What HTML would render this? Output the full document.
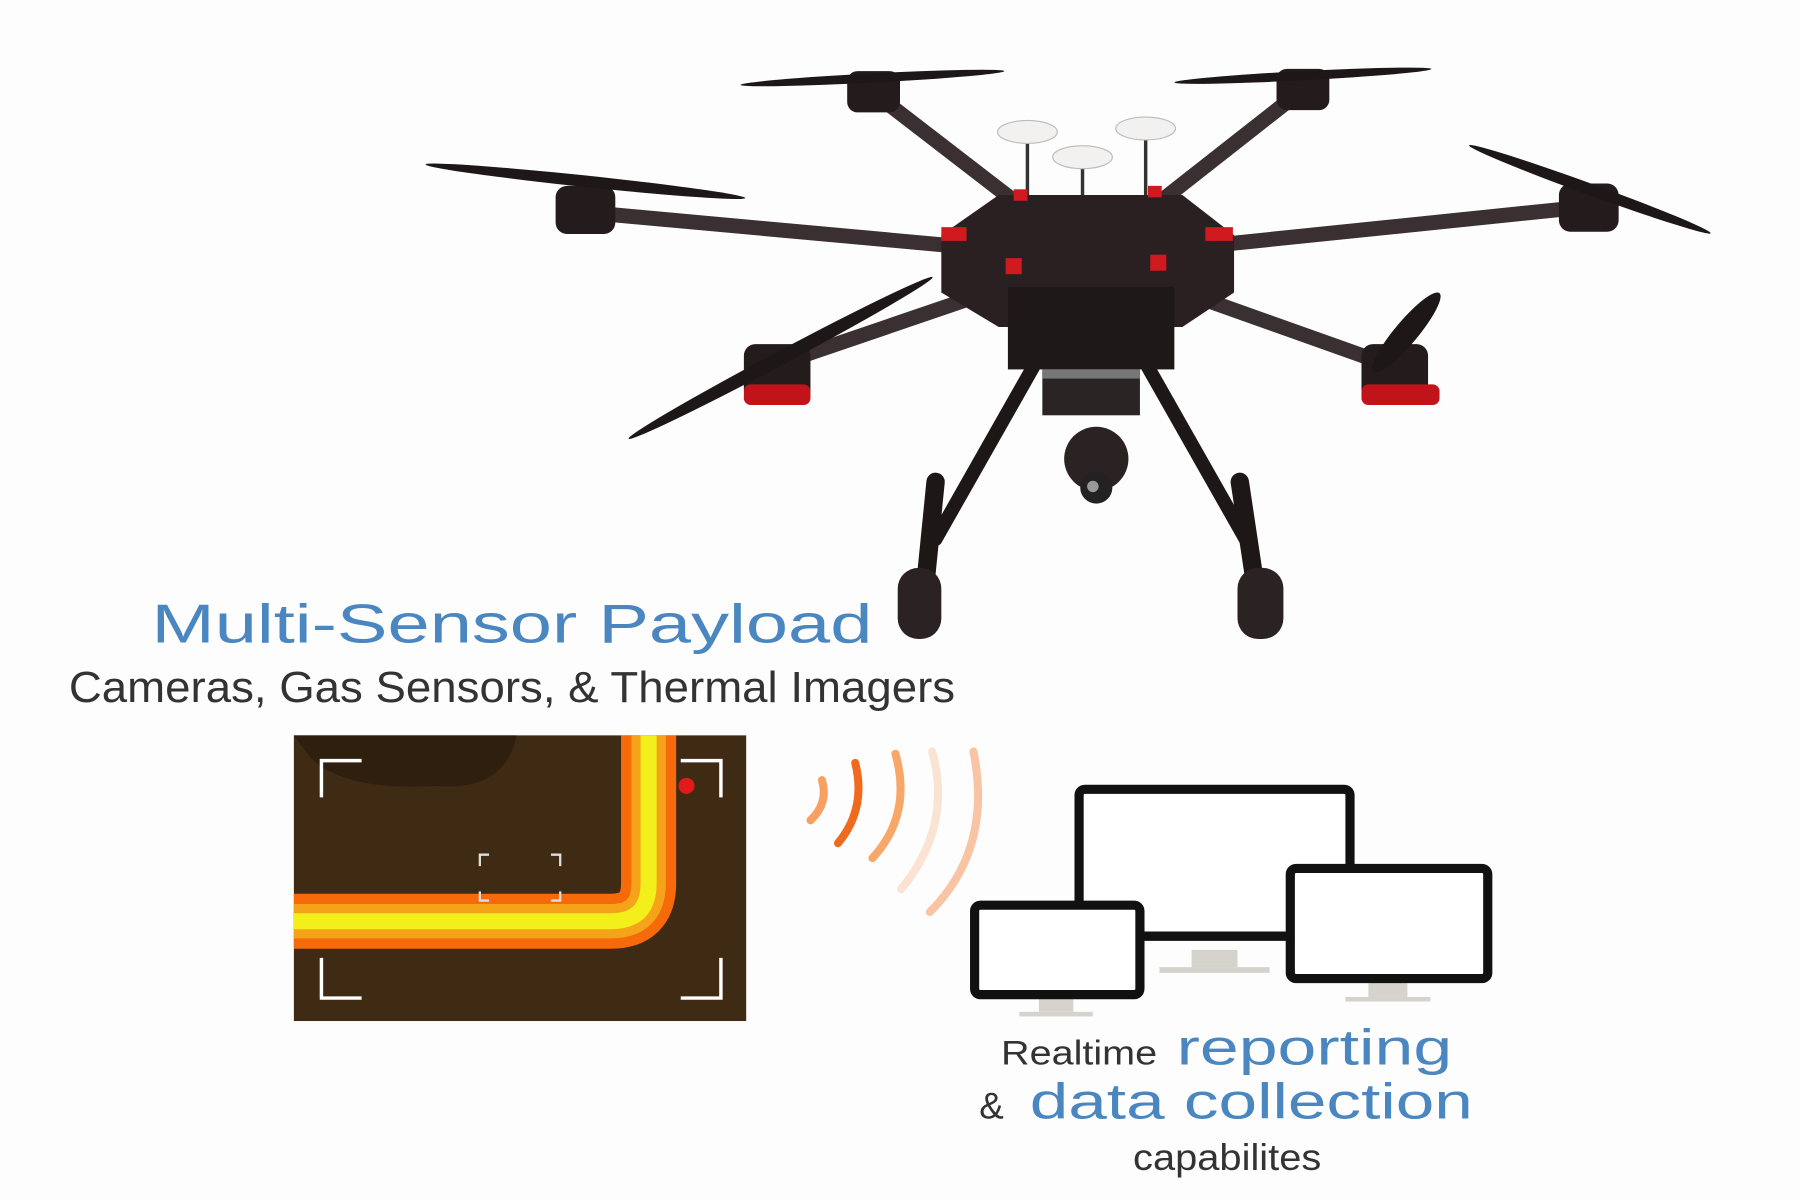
<!DOCTYPE html>
<html><head><meta charset="utf-8"><style>
html,body{margin:0;padding:0;background:#fdfdfd;}
svg{display:block;}
</style></head><body>
<svg width="1800" height="1200" viewBox="0 0 1568 1046" preserveAspectRatio="none" xmlns="http://www.w3.org/2000/svg">
<rect width="1568" height="1046" fill="#fdfdfd"/>
<!-- landing legs -->
<g stroke="#1e1718" stroke-linecap="round" fill="none">
<line x1="900" y1="320" x2="815" y2="470" stroke-width="12"/>
<line x1="1000" y1="320" x2="1085" y2="470" stroke-width="12"/>
<line x1="815" y1="420" x2="805" y2="520" stroke-width="16"/>
<line x1="1080" y1="420" x2="1095" y2="520" stroke-width="16"/>
</g>
<rect x="782" y="495" width="38" height="62" rx="18" fill="#2a2223"/>
<rect x="1078" y="495" width="40" height="62" rx="18" fill="#2a2223"/>
<!-- arms -->
<g stroke="#3a3032" stroke-width="13" stroke-linecap="round">
<line x1="948" y1="225" x2="510" y2="185"/>
<line x1="948" y1="225" x2="760" y2="80"/>
<line x1="948" y1="225" x2="1135" y2="78"/>
<line x1="948" y1="225" x2="1385" y2="180"/>
<line x1="948" y1="225" x2="670" y2="320"/>
<line x1="948" y1="225" x2="1215" y2="320"/>
</g>
<!-- motors -->
<g fill="#231b1c">
<rect x="484" y="162" width="52" height="42" rx="10"/>
<rect x="738" y="62" width="46" height="36" rx="9"/>
<rect x="1112" y="60" width="46" height="36" rx="9"/>
<rect x="1358" y="160" width="52" height="42" rx="10"/>
<rect x="648" y="300" width="58" height="50" rx="10"/>
<rect x="1186" y="300" width="58" height="50" rx="10"/>
</g>
<rect x="648" y="335" width="58" height="18" rx="6" fill="#c0141a"/>
<rect x="1186" y="335" width="68" height="18" rx="6" fill="#c0141a"/>
<!-- props -->
<g fill="#1e1718">
<ellipse cx="510" cy="158" rx="140" ry="5" transform="rotate(6 510 158)"/>
<ellipse cx="760" cy="68" rx="115" ry="4" transform="rotate(-3 760 68)"/>
<ellipse cx="1135" cy="66" rx="112" ry="4" transform="rotate(-3 1135 66)"/>
<ellipse cx="1385" cy="165" rx="112" ry="5" transform="rotate(20 1385 165)"/>
<ellipse cx="680" cy="312" rx="150" ry="6" transform="rotate(-28 680 312)"/>
<ellipse cx="1225" cy="290" rx="45" ry="10" transform="rotate(-50 1225 290)"/>
</g>
<!-- antennas -->
<g stroke="#333" stroke-width="3">
<line x1="895" y1="118" x2="895" y2="180"/><line x1="943" y1="140" x2="943" y2="235"/><line x1="998" y1="115" x2="998" y2="180"/>
</g>
<g fill="#f3f1ef" stroke="#bbb">
<ellipse cx="895" cy="115" rx="26" ry="10"/><ellipse cx="943" cy="137" rx="26" ry="10"/><ellipse cx="998" cy="112" rx="26" ry="10"/>
</g>
<!-- body -->
<polygon points="870,170 1030,170 1075,205 1075,255 1030,285 870,285 820,255 820,205" fill="#2a2021"/>
<rect x="878" y="250" width="145" height="72" fill="#1f1819"/>
<rect x="908" y="322" width="85" height="40" fill="#2b2425"/>
<rect x="908" y="322" width="85" height="8" fill="#777"/>
<circle cx="955" cy="400" r="28" fill="#2a2223"/>
<circle cx="955" cy="425" r="14" fill="#222"/>
<circle cx="952" cy="424" r="5" fill="#999"/>
<g fill="#d01a20">
<rect x="820" y="198" width="22" height="12"/><rect x="1050" y="198" width="24" height="12"/>
<rect x="876" y="225" width="14" height="14"/><rect x="1002" y="222" width="14" height="14"/>
<rect x="883" y="165" width="12" height="10"/><rect x="1000" y="162" width="12" height="10"/>
</g>
<!-- texts -->
<text x="132" y="560" font-family="'Liberation Sans',sans-serif" font-size="48" fill="#4a86c0" textLength="628" lengthAdjust="spacingAndGlyphs">Multi-Sensor Payload</text>
<text x="60" y="612" font-family="'Liberation Sans',sans-serif" font-size="38" fill="#333" textLength="772" lengthAdjust="spacingAndGlyphs">Cameras, Gas Sensors, &amp; Thermal Imagers</text>
<!-- thermal box -->
<rect x="256" y="641" width="394" height="249" fill="#3f2a14"/>
<path d="M256,641 H450 Q440,690 380,685 Q300,690 270,660 Z" fill="#2f1f0f"/>
<path d="M565,641 V770 Q565,803 532,803 H256" fill="none" stroke="#f76a0a" stroke-width="48"/>
<path d="M565,641 V770 Q565,803 532,803 H256" fill="none" stroke="#f5a41a" stroke-width="30"/>
<path d="M565,641 V770 Q565,803 532,803 H256" fill="none" stroke="#f3ef1a" stroke-width="14"/>
<circle cx="598" cy="685" r="7" fill="#e21a1a"/>
<g stroke="#fff" stroke-width="3" fill="none">
<path d="M280,695 V663 H315"/><path d="M593,663 H628 V695"/>
<path d="M280,835 V870 H315"/><path d="M593,870 H628 V835"/>
</g>
<g stroke="#ddd" stroke-width="2" fill="none">
<path d="M418,755 V745 H426"/><path d="M480,745 H488 V755"/><path d="M418,777 V785 H426"/><path d="M480,785 H488 V777"/>
</g>
<!-- wifi -->
<g fill="none" stroke-linecap="round" stroke-width="7">
<path d="M716,680 Q722,700 706,715" stroke="#f7a060"/>
<path d="M745,665 Q755,705 730,735" stroke="#f06a1e"/>
<path d="M780,657 Q795,710 760,748" stroke="#f7a868"/>
<path d="M812,655 Q830,720 785,775" stroke="#fbe3d4"/>
<path d="M848,655 Q865,740 810,795" stroke="#f8c4a4"/>
</g>
<!-- monitors -->
<g fill="#d6d3cc">
<rect x="1038" y="828" width="40" height="15"/><rect x="1010" y="843" width="96" height="5"/>
<rect x="905" y="870" width="30" height="12"/><rect x="888" y="882" width="64" height="4"/>
<rect x="1192" y="855" width="34" height="14"/><rect x="1172" y="869" width="74" height="4"/>
</g>
<g stroke="#111" stroke-width="8" fill="#fff">
<rect x="940" y="688" width="236" height="128" rx="5"/>
<rect x="849" y="789" width="144" height="78" rx="5"/>
<rect x="1124" y="757" width="172" height="96" rx="5"/>
</g>
<line x1="993" y1="816" x2="1124" y2="816" stroke="#111" stroke-width="8"/>
<text x="872" y="928" font-family="'Liberation Sans',sans-serif" font-size="30" fill="#333" textLength="136" lengthAdjust="spacingAndGlyphs">Realtime</text>
<text x="1025" y="928" font-family="'Liberation Sans',sans-serif" font-size="44" fill="#4a86c0" textLength="240" lengthAdjust="spacingAndGlyphs">reporting</text>
<text x="853" y="975" font-family="'Liberation Sans',sans-serif" font-size="32" fill="#333">&amp;</text>
<text x="897" y="975" font-family="'Liberation Sans',sans-serif" font-size="44" fill="#4a86c0" textLength="386" lengthAdjust="spacingAndGlyphs">data collection</text>
<text x="987" y="1020" font-family="'Liberation Sans',sans-serif" font-size="32" fill="#333" textLength="164" lengthAdjust="spacingAndGlyphs">capabilites</text>
</svg>
</body></html>
